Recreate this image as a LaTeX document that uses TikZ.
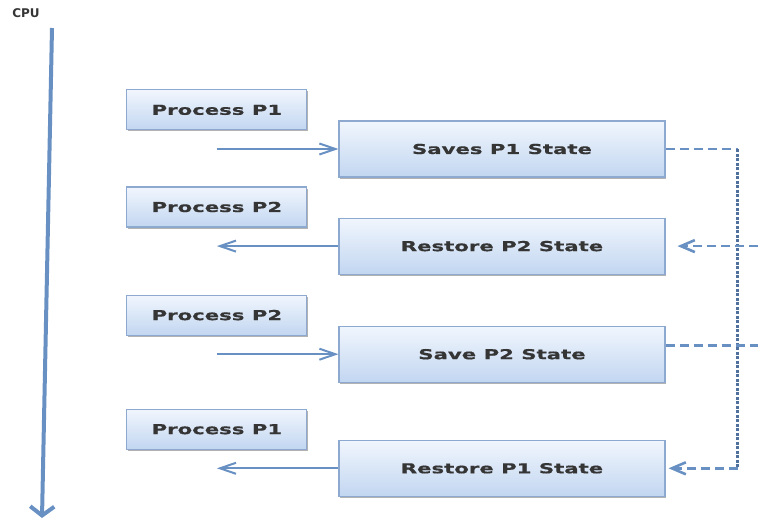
\documentclass[tikz,border=0pt]{standalone}
\usepackage[dvipsnames]{xcolor}
\usepackage{fontspec}
\setmainfont{DejaVu Sans}
\newfontfamily\boxfont{DejaVu Sans}[FakeStretch=1.55, FakeBold=0.6]
\usepackage{tikz}
\usetikzlibrary{positioning,arrows.meta,shadows}
\definecolor{boxtop}{HTML}{F1F6FD}
\definecolor{boxbot}{HTML}{C2D6F1}
\definecolor{boxline}{HTML}{8DA9CF}
\definecolor{linkblue}{HTML}{6890C2}
\definecolor{railblue}{HTML}{50709E}
\definecolor{labelgray}{HTML}{353535}

\begin{document}
\begin{tikzpicture}[x=1pt, y=-1pt,
    every node/.style={text=labelgray, font=\boxfont\bfseries\fontsize{13.7}{16}\selectfont},
    procbox/.style={rectangle, draw=boxline, line width=1.1pt, top color=boxtop, bottom color=boxbot,
                    minimum width=180pt, minimum height=40pt,
                    drop shadow={shadow xshift=1.2pt, shadow yshift=-1.5pt, opacity=0.3, fill=black}},
    statebox/.style={procbox, minimum width=326pt, minimum height=56pt},
    flow/.style={draw=linkblue, line width=2pt, -{Straight Barb[length=16pt,width=11pt]}},
    link/.style={draw=linkblue, line width=2.6pt, dash pattern=on 9pt off 5pt},
    rail/.style={draw=railblue, line width=3pt, dash pattern=on 3pt off 1.5pt},
    timeline/.style={draw=linkblue, line width=4pt, -{Straight Barb[length=9pt,width=24pt]}}]
    \useasboundingbox (0,0) rectangle (758,522);
    \node (cpu) at (26,13) [font=\bfseries\fontsize{12}{14}\selectfont] {CPU};
    \coordinate (axtop) at (52,28);
    \coordinate (axbot) at (42,518);
    \coordinate (rim) at (758,0);
    \node (s1) at (502,149) [statebox] {Saves P1 State};
    \node (r2)[statebox, below=40pt of s1] {Restore P2 State};
    \node (s2)[statebox, below=51pt of r2] {Save P2 State};
    \node (r1)[statebox, below=57pt of s2] {Restore P1 State};
    \node (p1a)[procbox, above left=-10pt and 31pt of s1] {Process P1};
    \node (p2a)[procbox, above left=-10pt and 31pt of r2] {Process P2};
    \node (p2b)[procbox, above left=-10pt and 31pt of s2] {Process P2};
    \node (p1b)[procbox, above left=-10pt and 31pt of r1] {Process P1};
    \coordinate (s2out) at ([yshift=9pt]s2.east);
    \draw[timeline] (axtop) -- (axbot);
    \draw[flow] (p1a.south |- s1.west) -- (s1.west);
    \draw[flow] (r2.west) -- (p2a.south |- r2.west);
    \draw[flow] (p2b.south |- s2.west) -- (s2.west);
    \draw[flow] (r1.west) -- (p1b.south |- r1.west);
    \draw[link] (s1.east) -- ++(72,0) coordinate (turn);
    \draw[rail] (turn) -- (turn |- r1.east);
    \draw[link, -{Straight Barb[length=14pt,width=12pt]}, shorten >=3pt] (turn |- r1.east) -- (r1.east);
    \draw[link, -{Straight Barb[length=14pt,width=12pt]}, shorten >=12pt] (r2.east -| rim) -- (r2.east);
    \draw[link] (s2out) -- (s2out -| rim);
\end{tikzpicture}
\end{document}
